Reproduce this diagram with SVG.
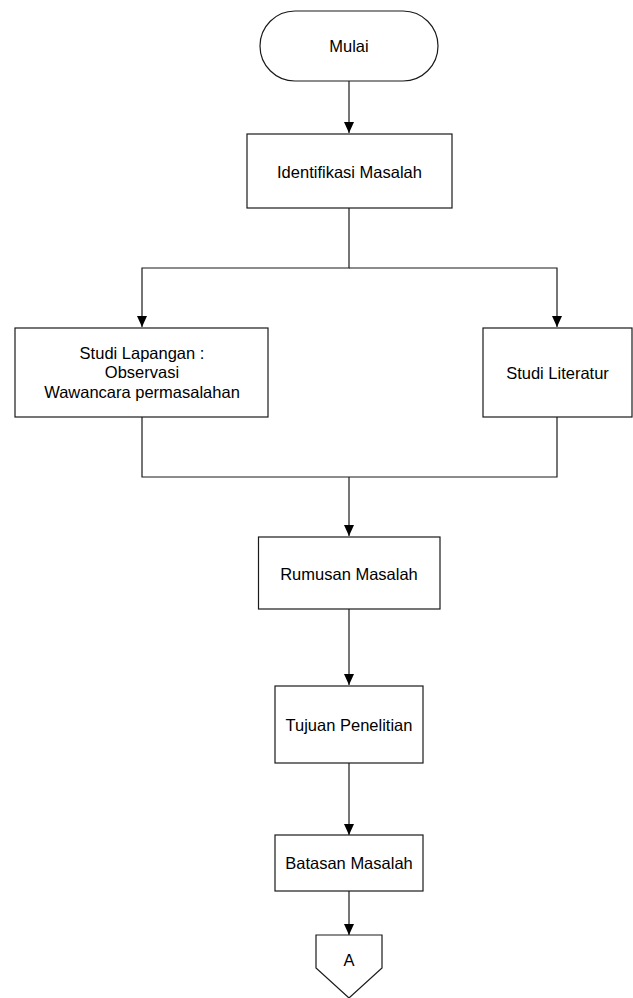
<svg xmlns="http://www.w3.org/2000/svg" width="633" height="998" viewBox="0 0 633 998">
<defs>
<marker id="arr" viewBox="0 0 11 10" refX="11" refY="5" markerWidth="11" markerHeight="10" markerUnits="userSpaceOnUse" orient="auto">
<path d="M0,0 L11,5 L0,10 z" fill="#000"/>
</marker>
<style>
.box{fill:#fff;stroke:#1a1a1a;stroke-width:1.2}
.ln{fill:none;stroke:#1a1a1a;stroke-width:1.2}
.t{font-family:"Liberation Sans",Arial,sans-serif;font-size:16.5px;fill:#000;text-anchor:middle}
</style>
</defs>
<rect width="633" height="998" fill="#fff"/>
<g id="connectors">
<path class="ln" d="M349,81 V133" marker-end="url(#arr)"/>
<path class="ln" d="M349,208 V268 H142 V327" marker-end="url(#arr)"/>
<path class="ln" d="M349,268 H557 V327" marker-end="url(#arr)"/>
<path class="ln" d="M142,417 V477 H557 V417"/>
<path class="ln" d="M349,477 V536" marker-end="url(#arr)"/>
<path class="ln" d="M349,609 V685" marker-end="url(#arr)"/>
<path class="ln" d="M349,763 V835" marker-end="url(#arr)"/>
<path class="ln" d="M349,891 V935" marker-end="url(#arr)"/>
</g>
<g id="mulai">
<rect class="box" x="260" y="11" width="178" height="70" rx="35" ry="35"/>
<text class="t" x="349" y="52">Mulai</text>
</g>
<g id="identifikasi">
<rect class="box" x="247" y="134" width="205" height="74"/>
<text class="t" x="349.5" y="177.5">Identifikasi Masalah</text>
</g>
<g id="studi-lapangan">
<rect class="box" x="15" y="328" width="253" height="89"/>
<text class="t" x="142" y="358.5">Studi Lapangan :</text>
<text class="t" x="142" y="378">Observasi</text>
<text class="t" x="142" y="397.5">Wawancara permasalahan</text>
</g>
<g id="studi-literatur">
<rect class="box" x="483" y="328" width="149" height="89"/>
<text class="t" x="557.5" y="379">Studi Literatur</text>
</g>
<g id="rumusan">
<rect class="box" x="258.5" y="537" width="181.5" height="72"/>
<text class="t" x="349" y="580">Rumusan Masalah</text>
</g>
<g id="tujuan">
<rect class="box" x="275" y="686" width="148" height="77"/>
<text class="t" x="349" y="731">Tujuan Penelitian</text>
</g>
<g id="batasan">
<rect class="box" x="275" y="835" width="148" height="56"/>
<text class="t" x="349" y="869">Batasan Masalah</text>
</g>
<g id="connector-a">
<path class="box" d="M316,935 H382 V968 L349,998 L316,968 Z"/>
<text class="t" x="349" y="966">A</text>
</g>
</svg>
